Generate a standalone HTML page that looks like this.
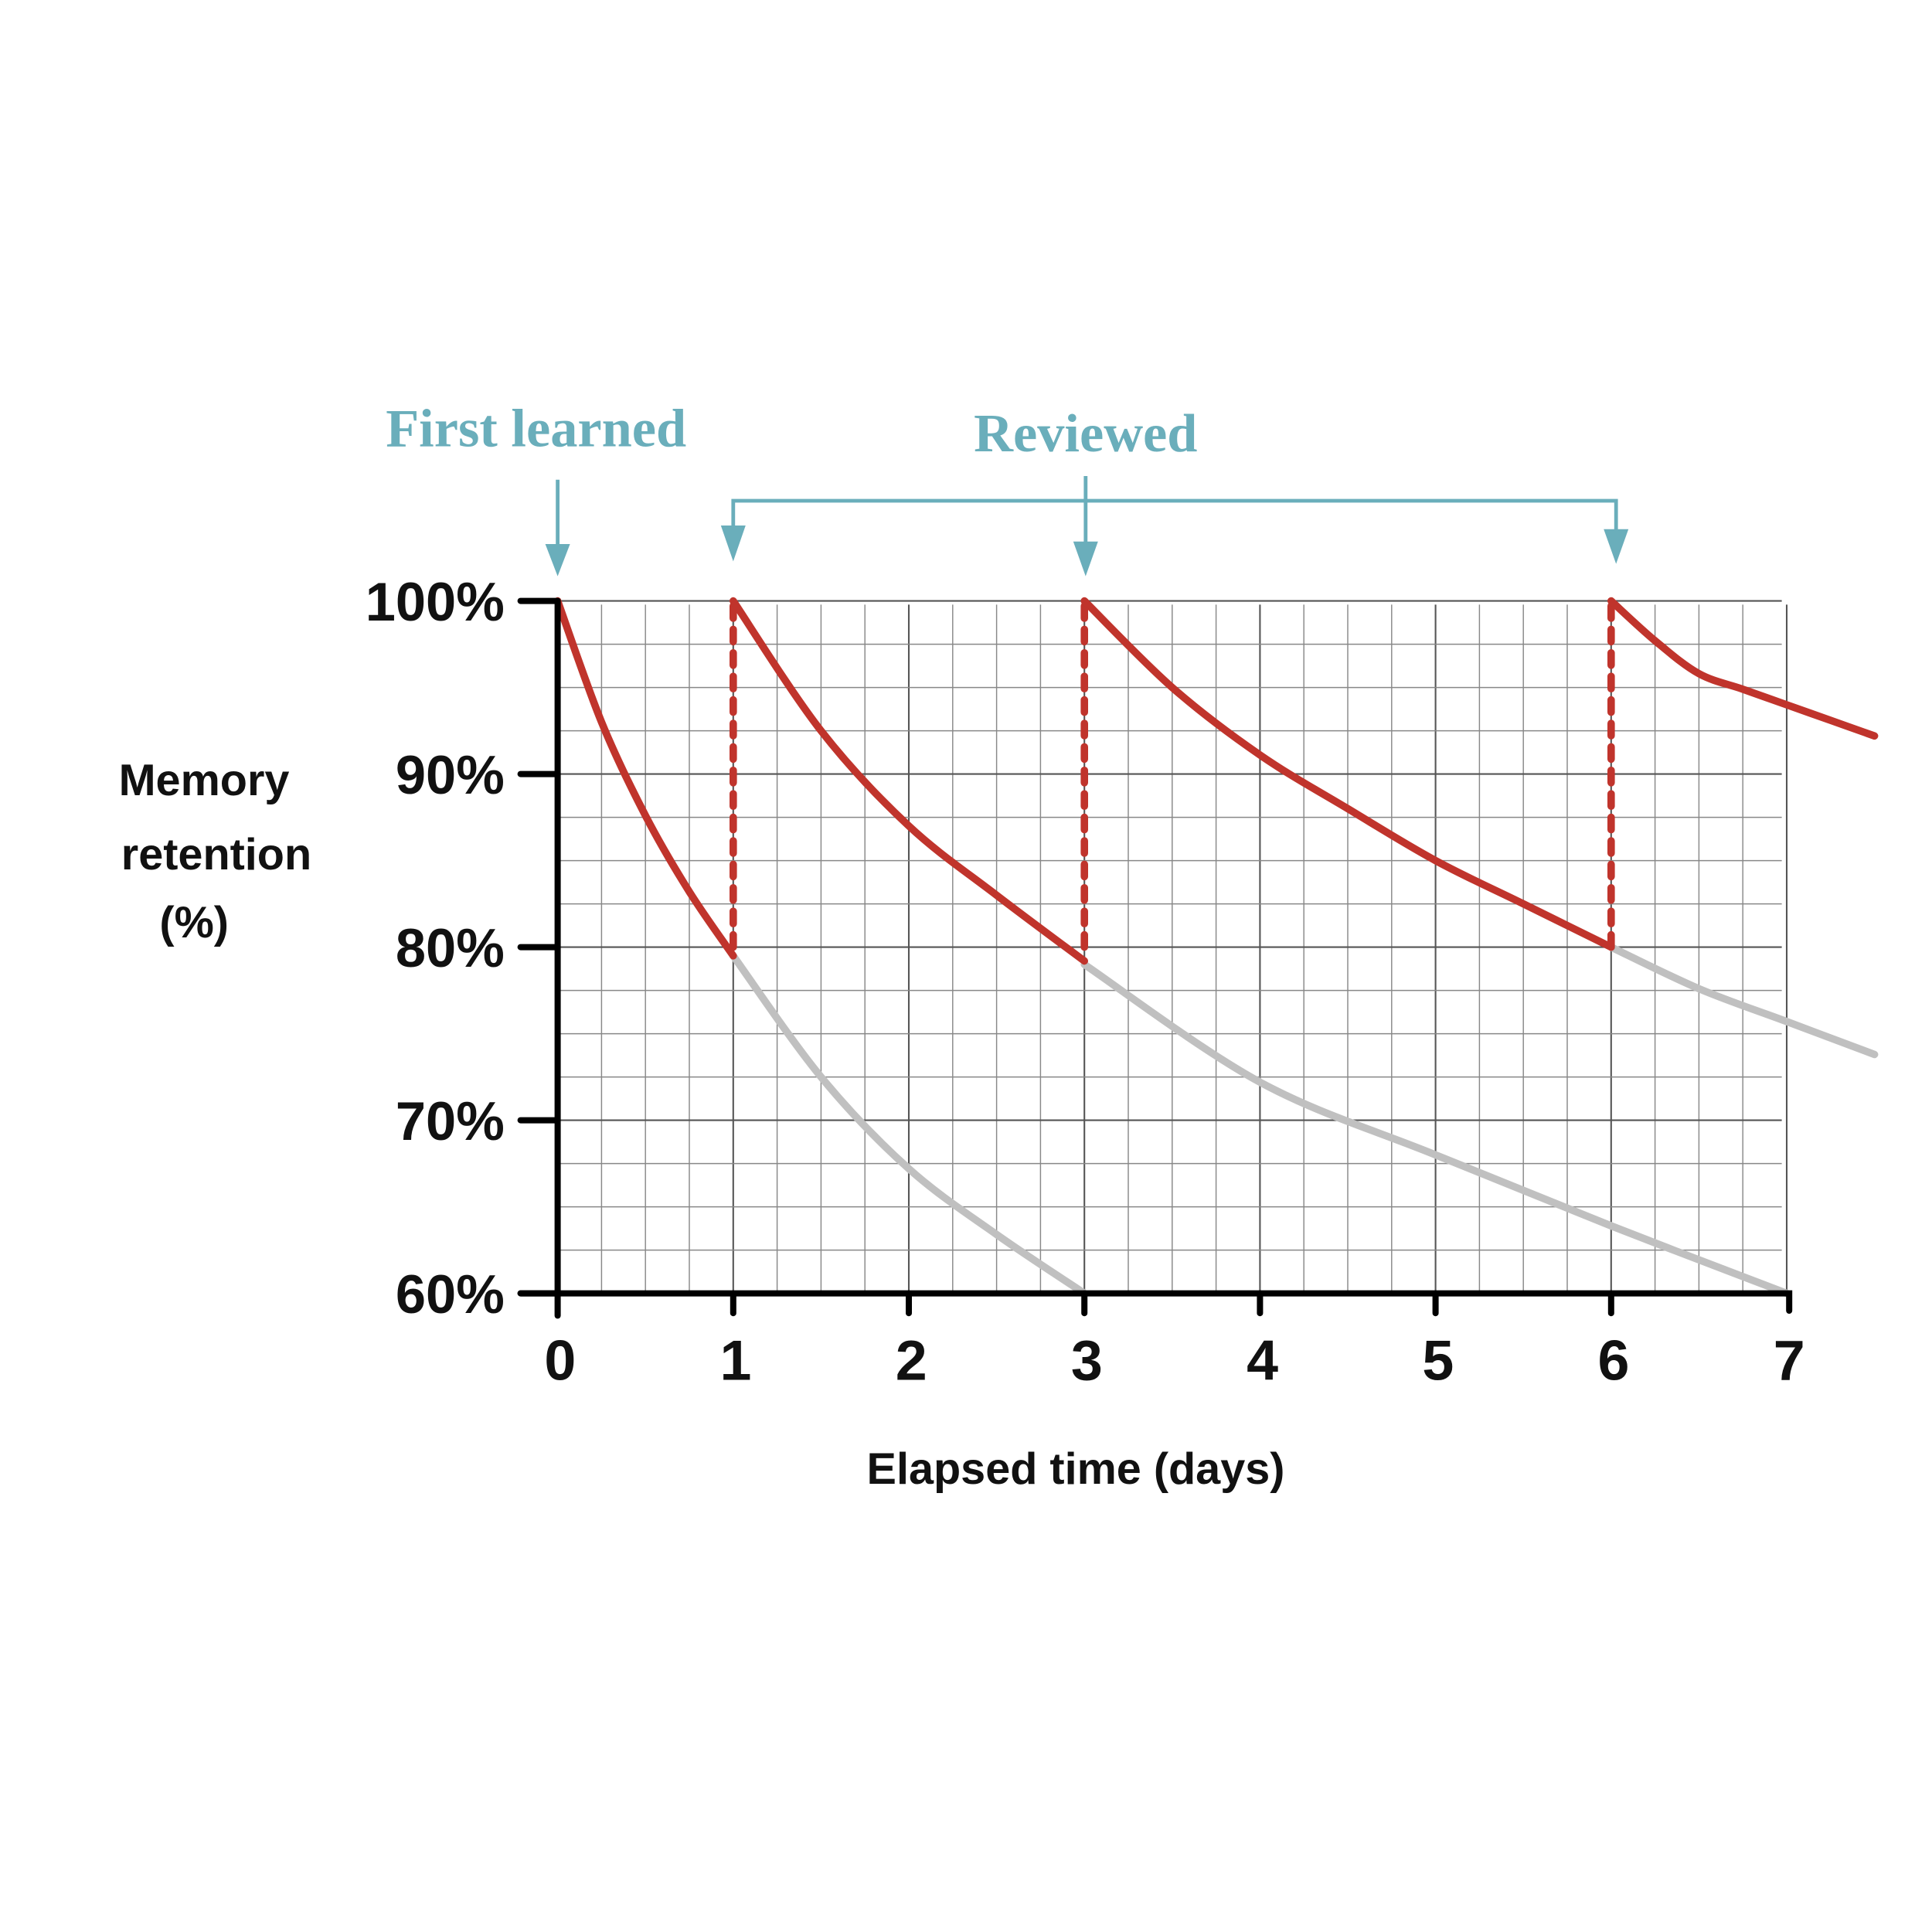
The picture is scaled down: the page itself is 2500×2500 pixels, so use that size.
<!DOCTYPE html>
<html><head><meta charset="utf-8"><style>
html,body{margin:0;padding:0;background:#fff;}
svg{display:block;}
.lbl{font-family:"Liberation Sans",sans-serif;font-weight:bold;fill:#111;}
.teal{font-family:"Liberation Serif",serif;font-weight:bold;fill:#6aaebb;}
</style></head><body>
<svg id="chart" width="2500" height="2500" viewBox="0 0 1562.5 1562.5" xmlns="http://www.w3.org/2000/svg">
<rect width="1562.5" height="1562.5" fill="#fff"/>
<g id="grid"></g>
<g id="series"></g>
<g id="axes"></g>
<g stroke="#6aaebb" stroke-width="3" fill="none">
<path d="M451 388 V450"/>
<path d="M593 430 V405 H1307 V440 M878 385 V450"/>
</g>
<g fill="#6aaebb">
<path d="M441 440 L451 466 L461 440 Z"/><path d="M583 425 L593 454 L603 425 Z"/>
<path d="M868 438 L878 466 L888 438 Z"/><path d="M1297 428 L1307 456 L1317 428 Z"/>
</g>
<text class="teal" x="312" y="361" font-size="44">First learned</text>
<text class="teal" x="878" y="365" font-size="44" text-anchor="middle">Reviewed</text>
<text class="lbl" font-size="36" text-anchor="middle"><tspan x="165" y="643">Memory</tspan><tspan x="175" y="703">retention</tspan><tspan x="157" y="758">(%)</tspan></text>
<text class="lbl" x="870" y="1200" font-size="36" text-anchor="middle" font-weight="normal">Elapsed time (days)</text>
</svg>
<script>
const xTicks=[0,1,2,3,4,5,6,7];
const yTicks=[60,70,80,90,100];
const reviewDays=[1,3,6];
const red1X=[0,0.25,0.5,0.75,1], red1Y=[100,93,87.6,83.2,79.5];
const red2X=[1,1.5,2,2.5,3], red2Y=[100,92.5,87,83,79.2];
const red3X=[3,3.5,4,4.5,5,5.5,6], red3Y=[100,95,91.1,88,85,82.5,80];
const red4X=[6,6.25,6.5,6.75,7,7.25,7.5], red4Y=[100,97.7,95.8,94.9,94.0,93.1,92.2];
const gray1X=[1,1.5,2,2.5,3], gray1Y=[79.5,72.5,67.2,63.4,60];
const gray2X=[3,4,5,6,7], gray2Y=[79,72.2,68,63.9,60];
const gray3X=[6,6.5,7,7.5], gray3Y=[80,77.6,75.7,73.8];
const X0=451,DX=142.0,Y60=1046,DY=14;
const sx=d=>X0+d*DX, sy=v=>Y60-(v-60)*DY;
const NS="http://www.w3.org/2000/svg";
function mk(tag,attrs,parent){const e=document.createElementNS(NS,tag);for(const k in attrs)e.setAttribute(k,attrs[k]);parent.appendChild(e);return e;}
const grid=document.getElementById('grid');
for(let i=0;i<=28;i++){const x=sx(i/4);
const l=mk('line',{x1:x,x2:x,y1:sy(100)+3,y2:Y60,stroke:i%4==0?'#555':'#888','stroke-width':i%4==0?1.3:0.9},grid);

}
for(let i=0;i<=16;i++){const y=sy(60+i*2.5);
const l=mk('line',{x1:X0,x2:sx(7)-4,y1:y,y2:y,stroke:i%4==0?'#555':'#888','stroke-width':i%4==0?1.3:0.9},grid);

}
function smooth(xs,ys){const p=xs.map((x,i)=>[sx(x),sy(ys[i])]);let d=`M${p[0][0]} ${p[0][1]}`;
for(let i=0;i<p.length-1;i++){const p0=p[i-1]||p[i],p1=p[i],p2=p[i+1],p3=p[i+2]||p2;
d+=` C${p1[0]+(p2[0]-p0[0])/6} ${p1[1]+(p2[1]-p0[1])/6} ${p2[0]-(p3[0]-p1[0])/6} ${p2[1]-(p3[1]-p1[1])/6} ${p2[0]} ${p2[1]}`;}return d;}
const ser=document.getElementById('series');
[[gray1X,gray1Y],[gray2X,gray2Y],[gray3X,gray3Y]].forEach((s,i)=>{
const p=mk('path',{d:smooth(s[0],s[1]),fill:'none',stroke:'#c0c0c0','stroke-width':6,'stroke-linecap':'round'},ser);

});
reviewDays.forEach(d=>{
const l=mk('line',{x1:sx(d),x2:sx(d),y1:sy(80),y2:sy(100),stroke:'#c0342c','stroke-width':6,'stroke-dasharray':'10 9','stroke-linecap':'round'},ser);

});
[[red1X,red1Y],[red2X,red2Y],[red3X,red3Y],[red4X,red4Y]].forEach((s,i)=>{
const p=mk('path',{d:smooth(s[0],s[1]),fill:'none',stroke:'#c0342c','stroke-width':6,'stroke-linecap':'round'},ser);

});
const ax=document.getElementById('axes');
const ya=mk('path',{d:`M${X0} ${sy(100)} V${Y60+18}`,stroke:'#000','stroke-width':5,'stroke-linecap':'round',fill:'none'},ax);


const xa=mk('path',{d:`M${X0-30} ${Y60} H${sx(7)+2} V${Y60+14}`,stroke:'#000','stroke-width':5,'stroke-linecap':'round',fill:'none'},ax);


yTicks.forEach(v=>{
const t=mk('line',{x1:X0-30,x2:X0,y1:sy(v),y2:sy(v),stroke:'#000','stroke-width':5,'stroke-linecap':'round'},ax);


const tx=mk('text',{x:408,y:sy(v)+16,'text-anchor':'end','font-size':44,'class':'lbl'},ax);
tx.textContent=v+'%';

});
xTicks.forEach(d=>{
if(d>0&&d<7){const t=mk('line',{x1:sx(d),x2:sx(d),y1:Y60,y2:Y60+16,stroke:'#000','stroke-width':5,'stroke-linecap':'round'},ax);

}
const tx=mk('text',{x:sx(d)+2,y:1116,'text-anchor':'middle','font-size':46,'class':'lbl'},ax);
tx.textContent=d;

});
</script>
</body></html>
